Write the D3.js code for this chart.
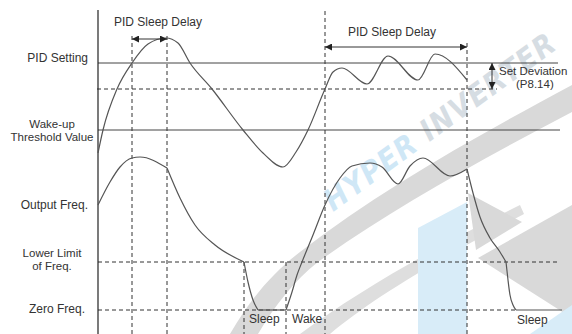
<!DOCTYPE html>
<html>
<head>
<meta charset="utf-8">
<script src="https://cdn.jsdelivr.net/npm/d3@7"></script>
<style>
body { margin: 0; background: #fff; }
svg text { font-family: "Liberation Sans", Arial, sans-serif; font-size: 12px; fill: #333; }
</style>
</head>
<body>
<div id="main"></div>
<script>
// time runs along x from the vertical axis; levels are counted up from each panel's base
var feedback = [[0,17],[5,40],[19,81],[34,107],[50,126],[68,132],[80,127],[92,107],[114,81],[145,40],[165,17],[185,3],[198,18],[210,40],[227,81],[235,98],[244,102],[269,86],[290,114],[320,90],[337,116],[369,90]];

// output frequency, split where the curve has a hard corner
var freqStart = [[0,105],[12,128],[22,143],[34,152],[42,153],[69,142]];
var freqFall = [[69,142],[82,112],[97,85],[117,65],[146,48]];
var freqDrop = [[146,48],[150,28],[155,10],[160,0]];
var freqSleep = [[160,0],[188,0]];
var freqRise = [[188,0],[194,18],[199,35],[204,48],[215,75],[227,105],[242,132],[254,144],[272,147],[284,143],[300,126],[312,144],[325,152],[352,134],[369,141]];
var freqFall2 = [[369,141],[375,117],[382,93],[392,72],[402,58],[408,48]];
var freqDrop2 = [[408,48],[410,30],[412,15],[415,5],[418,0]];
var freqSleep2 = [[418,0],[464,0]];

// reference levels
var pidSetting = 107;
var deviationLevel = 81;
var wakeThreshold = 40;
var lowerLimit = 48;
var zeroFreq = 0;

// event times (dashed verticals)
var tSetReached = 34;
var tSleep1Delay = 69;
var tSleep1 = 146;
var tWake = 188;
var tSetAgain = 227;
var tSleep2Delay = 369;

var width = 572;
var height = 334;

var svg = d3.select("#main")
    .append("svg")
    .attr("width", width)
    .attr("height", height);

var x = d3.scaleLinear().domain([0, 474]).range([98, 572]);
var yFb = d3.scaleLinear().domain([0, 140]).range([170, 30]);
var yFq = d3.scaleLinear().domain([0, 150]).range([310, 160]);

// watermark in the background
var wm = svg.append("g").attr("class", "watermark");
wm.append("path")
    .attr("d", "M230,334 C250,300 270,275 300,252 C380,190 470,140 572,85 L572,112 C480,160 390,210 318,262 C295,280 275,305 258,334 Z")
    .style("fill", "#d9d9d9");
wm.append("path")
    .attr("d", "M300,334 C360,290 430,250 520,205 L524,214 C440,258 370,300 330,334 Z")
    .style("fill", "#dedede");
wm.append("path")
    .attr("d", "M418,228 L467,202 L467,334 L418,334 Z")
    .style("fill", "#d8ecf8");
wm.append("path")
    .attr("d", "M468,193 L522,222 L476,250 Z")
    .style("fill", "#d9d9d9");
wm.append("path")
    .attr("d", "M478,258 L572,205 L572,318 Z")
    .style("fill", "#d9d9d9");
wm.append("path")
    .attr("d", "M530,334 L572,305 L572,334 Z")
    .style("fill", "#d8ecf8");
wm.append("text")
    .attr("transform", "translate(333,212) rotate(-36)")
    .style("font-family", "'DejaVu Sans Condensed', 'DejaVu Sans', sans-serif")
    .style("font-weight", "bold")
    .style("font-style", "italic")
    .style("font-size", "30px")
    .attr("textLength", 278)
    .selectAll("tspan")
    .data([["HYPER ", "#cfe7f6"], ["INVERTER", "#d6dde3"]])
    .enter().append("tspan")
    .style("fill", function (d) { return d[1]; })
    .text(function (d) { return d[0]; });

// arrow heads
var defs = svg.append("defs");
defs.append("marker")
    .attr("id", "head")
    .attr("viewBox", "0 0 10 10")
    .attr("refX", 10).attr("refY", 5)
    .attr("markerWidth", 9).attr("markerHeight", 7)
    .attr("markerUnits", "userSpaceOnUse")
    .attr("orient", "auto-start-reverse")
    .append("path")
    .attr("d", "M0,0 L10,5 L0,10 Z")
    .style("fill", "#222");

// solid reference lines
function hline(y, x0, x1, dashed) {
    svg.append("line")
        .attr("x1", x0).attr("x2", x1)
        .attr("y1", y).attr("y2", y)
        .style("stroke", dashed ? "#333" : "#444")
        .style("stroke-width", 1)
        .style("stroke-dasharray", dashed ? "4,3" : null);
}
hline(yFb(pidSetting), x(0), x(460), false);
hline(yFb(deviationLevel), x(-1), x(399), true);
hline(yFb(wakeThreshold), x(0), x(462), false);
hline(yFq(lowerLimit), x(0), x(460), true);
hline(yFq(zeroFreq), x(0), x(418), true);

// dashed event lines
var vlines = [[tSetReached, 36], [tSleep1Delay, 36], [tSetAgain, 11], [tSleep2Delay, 43], [tSleep1, yFq(lowerLimit)], [tWake, yFq(lowerLimit)]];
svg.selectAll(".vline")
    .data(vlines)
    .enter().append("line")
    .attr("class", "vline")
    .attr("x1", function (d) { return x(d[0]); })
    .attr("x2", function (d) { return x(d[0]); })
    .attr("y1", function (d) { return d[1]; })
    .attr("y2", height)
    .style("stroke", "#333")
    .style("stroke-dasharray", "4,3");

// vertical axis
svg.append("line")
    .attr("x1", x(0)).attr("x2", x(0))
    .attr("y1", 10).attr("y2", height)
    .style("stroke", "#222")
    .style("stroke-width", 1.2);

// curves
var lineFb = d3.line()
    .x(function (d) { return x(d[0]); })
    .y(function (d) { return yFb(d[1]); })
    .curve(d3.curveMonotoneX);
var lineFq = d3.line()
    .x(function (d) { return x(d[0]); })
    .y(function (d) { return yFq(d[1]); })
    .curve(d3.curveMonotoneX);

svg.append("path")
    .attr("d", lineFb(feedback))
    .style("fill", "none")
    .style("stroke", "#555")
    .style("stroke-width", 1.2);

svg.selectAll(".freq")
    .data([freqStart, freqFall, freqDrop, freqSleep, freqRise, freqFall2, freqDrop2, freqSleep2])
    .enter().append("path")
    .attr("class", "freq")
    .attr("d", function (d) { return lineFq(d); })
    .style("fill", "none")
    .style("stroke", "#555")
    .style("stroke-width", 1.2);

// delay and deviation arrows
function arrow(x1, y1, x2, y2) {
    svg.append("line")
        .attr("x1", x1).attr("y1", y1)
        .attr("x2", x2).attr("y2", y2)
        .style("stroke", "#333")
        .style("stroke-width", 1)
        .attr("marker-start", "url(#head)")
        .attr("marker-end", "url(#head)");
}
arrow(x(tSetReached), 39, x(tSleep1Delay), 39);
arrow(x(tSetAgain), 47, x(tSleep2Delay), 47);
arrow(x(394), yFb(pidSetting), x(394), yFb(deviationLevel));

// labels: text, x, y, anchor, size
var labels = [
    ["PID Sleep Delay", 158, 26, "middle", 12],
    ["PID Sleep Delay", 392, 36, "middle", 12],
    ["PID Setting", 88, 62, "end", 12],
    ["Wake-up", 52, 128, "middle", 11.5],
    ["Threshold Value", 52, 141, "middle", 11.5],
    ["Output Freq.", 88, 209, "end", 12],
    ["Lower Limit", 52, 257, "middle", 11.5],
    ["of Freq.", 52, 270, "middle", 11.5],
    ["Zero Freq.", 85, 313, "end", 12],
    ["Set Deviation", 499, 75, "start", 11.5],
    ["(P8.14)", 516, 88, "start", 11.5],
    ["Sleep", 249, 323, "start", 12],
    ["Wake", 292, 323, "start", 12],
    ["Sleep", 517, 324, "start", 12]
];
svg.selectAll(".label")
    .data(labels)
    .enter().append("text")
    .attr("class", "label")
    .attr("x", function (d) { return d[1]; })
    .attr("y", function (d) { return d[2]; })
    .attr("text-anchor", function (d) { return d[3]; })
    .style("font-size", function (d) { return d[4] + "px"; })
    .text(function (d) { return d[0]; });
</script>
</body>
</html>
